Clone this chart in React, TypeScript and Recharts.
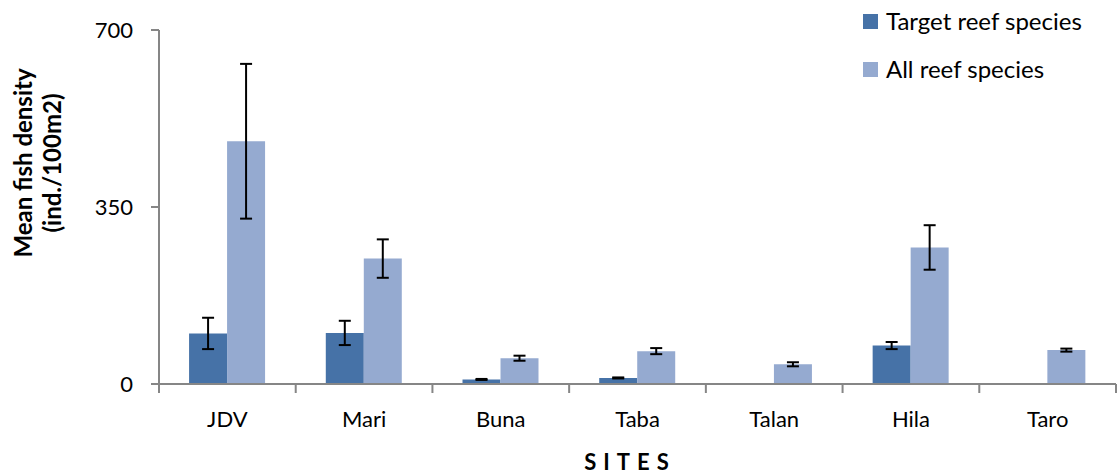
import * as React from 'react';
import { BarChart, Bar, XAxis, YAxis, ErrorBar } from 'recharts';

const sites = ['JDV', 'Mari', 'Buna', 'Taba', 'Talan', 'Hila', 'Taro'];
const targetMeans = [100, 101, 9, 12, 1, 76, 0];
const targetErrors = [31, 24, 1, 1, 0, 7, 0];
const allMeans = [480, 248, 51, 65, 39, 270, 67];
const allErrors = [153, 38, 5, 6, 4, 44, 3];
const yTicks = [0, 350, 700];

const W = 1118;
const H = 474;
const MARGIN = { top: 30, right: 2, bottom: 0, left: 0 };
const Y_AXIS_W = 159;
const X_AXIS_H = 90;
const PLOT_BOTTOM = H - MARGIN.bottom - X_AXIS_H;
const BAND = (W - MARGIN.left - MARGIN.right - Y_AXIS_W) / sites.length;

const DARK = '#4672A7';
const LIGHT = '#95AAD0';
const FONT = 'Lato, "Open Sans", sans-serif';

const data = sites.map((site, i) => ({
  site,
  target: targetMeans[i],
  targetErr: targetErrors[i],
  all: allMeans[i],
  allErr: allErrors[i],
}));

// category labels plus Excel-style tick marks between categories
const SiteTick = (props: any) => {
  const { x, payload, index } = props;
  const half = BAND / 2;
  return (
    <g>
      <line x1={x - half} x2={x - half} y1={PLOT_BOTTOM} y2={PLOT_BOTTOM + 9} stroke="#868686" strokeWidth={2} />
      {index === sites.length - 1 && (
        <line x1={x + half} x2={x + half} y1={PLOT_BOTTOM} y2={PLOT_BOTTOM + 9} stroke="#868686" strokeWidth={2} />
      )}
      <text x={x} y={PLOT_BOTTOM + 43} textAnchor="middle" fontSize={22} fontFamily={FONT} fill="#000">
        {payload.value}
      </text>
    </g>
  );
};

const legendItems = [
  { label: 'Target reef species', color: DARK },
  { label: 'All reef species', color: LIGHT },
];

export default function App() {
  return (
    <div style={{ position: 'absolute', left: 0, top: 0, width: W, height: H, background: '#fff' }}>
      <BarChart
        width={W}
        height={H}
        data={data}
        margin={MARGIN}
        barCategoryGap="22%"
        barGap={0}
      >
        <XAxis
          dataKey="site"
          height={X_AXIS_H}
          stroke="#868686"
          strokeWidth={2}
          tickLine={false}
          tick={<SiteTick />}
          interval={0}
        />
        <YAxis
          width={Y_AXIS_W}
          domain={[0, 700]}
          ticks={yTicks}
          stroke="#868686"
          strokeWidth={2}
          tickSize={8}
          tickMargin={18}
          tick={{ fill: '#000', fontSize: 22, fontFamily: FONT }}
        />
        <Bar dataKey="target" fill={DARK} isAnimationActive={false}>
          <ErrorBar dataKey="targetErr" width={6} strokeWidth={2} stroke="#000" />
        </Bar>
        <Bar dataKey="all" fill={LIGHT} isAnimationActive={false}>
          <ErrorBar dataKey="allErr" width={6} strokeWidth={2} stroke="#000" />
        </Bar>
      </BarChart>

      <svg width={W} height={H} style={{ position: 'absolute', left: 0, top: 0, pointerEvents: 'none' }}>
        <g transform="translate(24,163) rotate(-90)">
          <text textAnchor="middle" fontSize={24} fontWeight="bold" fontFamily={FONT} fill="#000" dy={8}>
            Mean fish density
          </text>
        </g>
        <g transform="translate(53,163) rotate(-90)">
          <text textAnchor="middle" fontSize={24} fontWeight="bold" fontFamily={FONT} fill="#000" dy={8}>
            (ind./100m2)
          </text>
        </g>
        <text x={630} y={470} textAnchor="middle" fontSize={22} fontWeight="bold" fontFamily={FONT} letterSpacing={7} fill="#000">
          SITES
        </text>
        {legendItems.map((item, i) => (
          <g key={item.label}>
            <rect x={863} y={14 + i * 48} width={15} height={15} fill={item.color} />
            <text x={886} y={30 + i * 48} fontSize={24} fontFamily={FONT} fill="#000">
              {item.label}
            </text>
          </g>
        ))}
      </svg>
    </div>
  );
}
